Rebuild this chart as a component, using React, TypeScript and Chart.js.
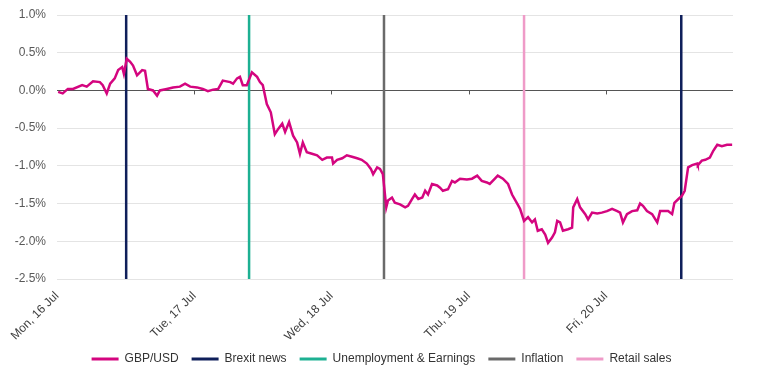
import React, { useEffect, useRef } from "react";
import { Chart, registerables } from "chart.js";

Chart.register(...registerables);

// Hours since Mon 16 Jul 00:00 (axis start)
const hours = [
  0.2, 1.0, 1.9, 2.8, 4.4, 5.2, 6.3, 7.5, 8.0, 8.7, 9.3, 10.1, 10.7, 11.4, 11.7, 12.2, 12.8, 13.3, 14.0, 14.9,
  15.4, 15.9, 16.8, 17.5, 18.0, 19.2, 20.3, 21.5, 22.4, 23.3, 24.5, 25.5, 26.4, 27.3, 28.2, 29.0, 30.3, 30.8, 31.5, 32.0,
  32.5, 33.2, 34.1, 35.0, 35.5, 36.0, 36.7, 37.4, 38.1, 38.7, 39.4, 39.9, 40.6, 41.3, 42.0, 42.5, 43.0, 43.7, 44.6, 45.5,
  46.4, 47.2, 48.1, 48.3, 49.0, 49.9, 50.7, 51.6, 52.5, 53.3, 54.2, 54.9, 55.3, 56.0, 56.5, 57.0, 57.6, 57.9, 58.6, 59.1,
  60.0, 60.9, 61.4, 62.1, 62.6, 63.2, 63.9, 64.4, 64.9, 65.6, 66.5, 67.0, 67.5, 68.4, 69.1, 69.6, 70.5, 71.7, 72.6, 73.5,
  74.3, 75.2, 75.7, 76.6, 77.1, 78.0, 78.9, 79.6, 80.5, 81.0, 81.7, 82.4, 83.1, 83.6, 84.1, 84.8, 85.4, 85.9, 86.6, 87.1,
  87.5, 88.0, 88.5, 89.4, 90.1, 90.3, 91.0, 91.5, 92.4, 92.9, 93.6, 94.5, 95.3, 96.2, 97.1, 98.0, 98.5, 99.0, 99.7, 100.6,
  101.5, 102.0, 102.5, 103.2, 104.1, 105.0, 105.5, 106.4, 106.9, 107.6, 108.0, 108.7, 109.3, 109.8, 110.4, 111.1, 112.0, 112.1, 112.8, 113.4,
  114.2, 114.8, 115.5, 116.3, 117.2, 118.1,
];

// GBP/USD change, %
const gbpUsd = [
  -0.02, -0.04, 0.02, 0.02, 0.07, 0.05, 0.12, 0.11, 0.07, -0.04, 0.09, 0.16, 0.27, 0.31, 0.22, 0.42, 0.38, 0.33, 0.2, 0.27,
  0.26, 0.02, 0.0, -0.07, 0.0, 0.02, 0.04, 0.05, 0.09, 0.05, 0.04, 0.02, -0.01, 0.01, 0.02, 0.13, 0.11, 0.09, 0.16, 0.18,
  0.07, 0.07, 0.24, 0.18, 0.11, 0.07, -0.18, -0.29, -0.58, -0.51, -0.44, -0.55, -0.42, -0.6, -0.69, -0.84, -0.69, -0.82, -0.84, -0.86,
  -0.92, -0.89, -0.89, -0.97, -0.92, -0.9, -0.86, -0.88, -0.9, -0.92, -0.97, -1.04, -1.11, -1.02, -1.04, -1.11, -1.55, -1.46, -1.42, -1.49,
  -1.51, -1.55, -1.53, -1.44, -1.38, -1.44, -1.42, -1.33, -1.38, -1.24, -1.26, -1.29, -1.33, -1.31, -1.2, -1.22, -1.17, -1.18, -1.17, -1.13,
  -1.2, -1.22, -1.24, -1.17, -1.13, -1.17, -1.24, -1.38, -1.5, -1.57, -1.73, -1.68, -1.75, -1.71, -1.86, -1.84, -1.91, -2.02, -1.95, -1.88,
  -1.73, -1.75, -1.86, -1.84, -1.82, -1.55, -1.44, -1.55, -1.64, -1.71, -1.62, -1.63, -1.62, -1.6, -1.57, -1.6, -1.62, -1.75, -1.64, -1.6,
  -1.59, -1.5, -1.53, -1.6, -1.64, -1.75, -1.6, -1.6, -1.6, -1.64, -1.49, -1.44, -1.4, -1.33, -1.02, -0.99, -0.97, -0.99, -0.93, -0.92,
  -0.89, -0.8, -0.72, -0.74, -0.72, -0.72,
];

// Event markers (hours since axis start)
const brexitNewsHours = [12.1, 109.2];
const unemploymentHours = [33.6];
const inflationHours = [57.2];
const retailSalesHours = [81.7];

const dayLabels = ["Mon, 16 Jul", "Tue, 17 Jul", "Wed, 18 Jul", "Thu, 19 Jul", "Fri, 20 Jul"];
const yMin = -2.5;
const yMax = 1.0;
const xMax = 118.25;

const FONT = "'Liberation Sans', Arial, Helvetica, sans-serif";

function verticalSegments(xs: number[]) {
  const pts: { x: number; y: number | null }[] = [];
  xs.forEach((x, i) => {
    if (i > 0) pts.push({ x: x - 0.01, y: null });
    pts.push({ x, y: yMin });
    pts.push({ x, y: yMax });
  });
  return pts;
}

const dayTickPlugin = {
  id: "dayTicks",
  beforeDatasetsDraw(chart: any) {
    const { ctx, scales } = chart;
    const y0 = scales.y.getPixelForValue(0);
    ctx.save();
    ctx.strokeStyle = "#555555";
    ctx.lineWidth = 1;
    for (let d = 1; d < dayLabels.length; d++) {
      const x = Math.round(scales.x.getPixelForValue(d * 24)) + 0.5;
      ctx.beginPath();
      ctx.moveTo(x, y0);
      ctx.lineTo(x, y0 + 4);
      ctx.stroke();
    }
    ctx.restore();
  },
};

const legendShiftPlugin = {
  id: "legendShift",
  afterLayout(chart: any) {
    if (chart.legend) {
      chart.legend.left += 15;
      chart.legend.right += 15;
    }
  },
};

export default function App() {
  const canvasRef = useRef<HTMLCanvasElement | null>(null);

  useEffect(() => {
    if (!canvasRef.current) return;
    const lineData = hours.map((h, i) => ({ x: h, y: gbpUsd[i] }));
    const vline = (label: string, xs: number[], color: string) => ({
      label,
      data: verticalSegments(xs),
      borderColor: color,
      backgroundColor: color,
      borderWidth: 2.5,
      pointRadius: 0,
      spanGaps: false,
      tension: 0,
    });
    const chart = new Chart(canvasRef.current, {
      type: "line",
      data: {
        datasets: [
          {
            label: "GBP/USD",
            data: lineData,
            borderColor: "#d4057f",
            backgroundColor: "#d4057f",
            borderWidth: 2.5,
            pointRadius: 0,
            tension: 0,
          },
          vline("Brexit news", brexitNewsHours, "#0f1f5a"),
          vline("Unemployment & Earnings", unemploymentHours, "#1db092"),
          vline("Inflation", inflationHours, "#6a6a6a"),
          vline("Retail sales", retailSalesHours, "#ef9bc8"),
        ],
      },
      options: {
        animation: false,
        responsive: true,
        maintainAspectRatio: false,
        layout: { padding: { top: 15, right: 24, bottom: 4, left: 0 } },
        plugins: {
          tooltip: { enabled: false },
          legend: {
            position: "bottom",
            labels: {
              boxWidth: 27,
              boxHeight: 3,
              padding: 13,
              color: "#333333",
              font: { family: FONT, size: 12 },
              generateLabels(chart: any) {
                const items = Chart.defaults.plugins.legend.labels.generateLabels(chart);
                return items.map((it: any) => ({ ...it, fillStyle: it.strokeStyle, lineWidth: 0 }));
              },
            },
          },
        },
        scales: {
          x: {
            type: "linear",
            min: 0,
            max: xMax,
            grid: { display: false, drawTicks: false },
            border: { display: false },
            afterFit(scale: any) {
              scale.height = 61;
              scale.paddingLeft = 0;
              scale.paddingRight = 0;
            },
            ticks: {
              stepSize: 24,
              includeBounds: false,
              autoSkip: false,
              maxRotation: 45,
              minRotation: 45,
              padding: 10,
              color: "#404040",
              font: { family: FONT, size: 12 },
              callback(value: any) {
                const v = Number(value);
                if (v % 24 !== 0) return "";
                return dayLabels[v / 24] ?? "";
              },
            },
          },
          y: {
            min: yMin,
            max: yMax,
            grid: {
              drawTicks: false,
              lineWidth: 1,
              color: (ctx: any) => (ctx.tick && ctx.tick.value === 0 ? "#555555" : "#e4e4e4"),
            },
            border: { display: false },
            afterFit(scale: any) {
              scale.width = 57;
              scale.paddingTop = 0;
              scale.paddingBottom = 0;
            },
            ticks: {
              stepSize: 0.5,
              padding: 11,
              color: "#595959",
              font: { family: FONT, size: 12 },
              callback(value: any) {
                return Number(value).toFixed(1) + "%";
              },
            },
          },
        },
      },
      plugins: [dayTickPlugin, legendShiftPlugin],
    } as any);
    return () => chart.destroy();
  }, []);

  return (
    <div style={{ position: "absolute", left: 0, top: 0, width: 757, height: 379, background: "#fff" }}>
      <canvas ref={canvasRef} />
    </div>
  );
}
